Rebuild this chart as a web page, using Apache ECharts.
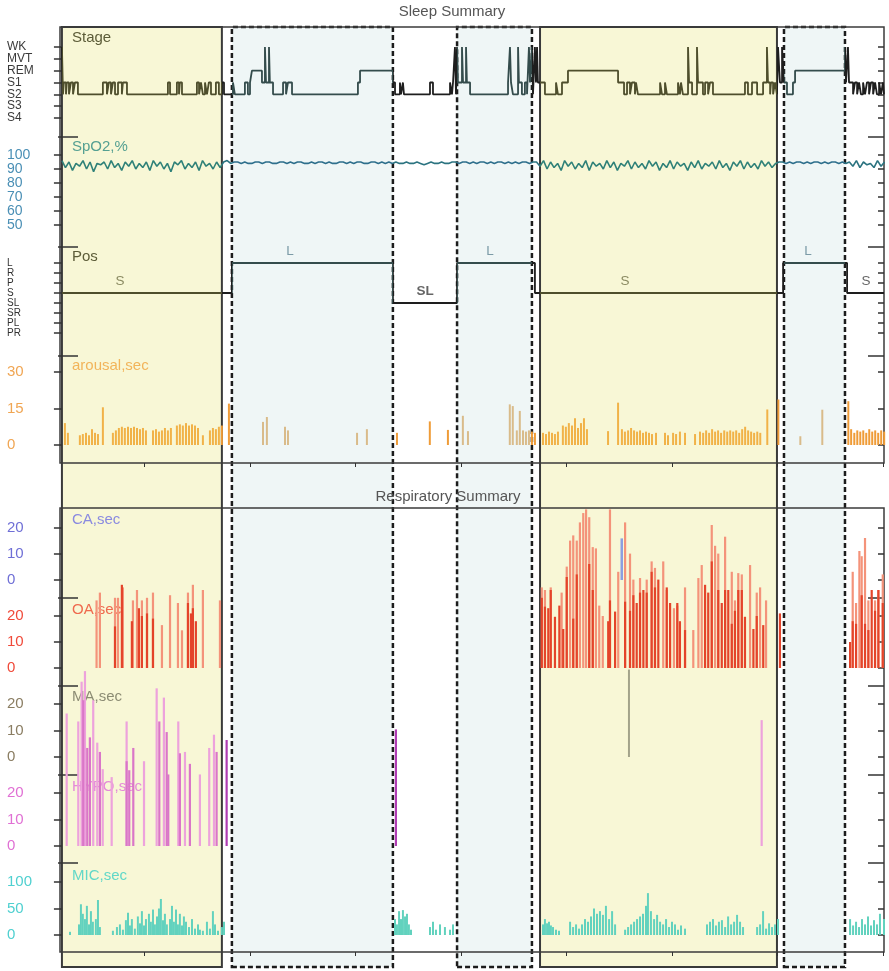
<!DOCTYPE html>
<html><head><meta charset="utf-8">
<script src="https://cdn.jsdelivr.net/npm/echarts@6/dist/echarts.min.js"></script>
<style>html,body{margin:0;padding:0;background:#fff}#c{width:889px;height:971px}</style>
</head><body><div id="c"></div>
<script>
// ===== DATA (time = minutes from start of recording) =====
const stageNames = ['S4','S3','S2','S1','REM','MVT','WK'];
const posNames = ['PR','PL','SR','SL','S','P','R','L'];
const hourTicks = [47,107,167,227,287,347,407,467];

const boxStart = [0, 96.7, 224.8, 272.0, 410.8];
const boxEnd   = [91.0, 188.3, 267.4, 406.8, 445.5];
const boxKind  = ['supine','lateral','lateral','supine','lateral'];

const posSteps = [[0,'S'],[96.7,'L'],[188.3,'SL'],[224.8,'L'],[269.1,'S'],[410.3,'L'],[446.7,'S']];
const posLabelAt = [33.0,129.7,206.6,243.5,320.4,424.5,457.5];

const stageSteps = [
[0,'WK'],[0.6,'S2'],[1.1,'S1'],[2.3,'S2'],[2.8,'S1'],[4.0,'S2'],[5.1,'S1'],[6.3,'S2'],[7.4,'S1'],[9.1,'S2'],
[23.3,'S1'],[25.6,'S2'],[26.7,'S1'],[27.9,'S2'],[29.0,'S1'],[30.2,'S2'],[31.9,'S1'],[34.1,'S2'],[34.7,'S1'],[37.0,'S2'],
[60.3,'S1'],[61.5,'S2'],[65.4,'S1'],[66.6,'S2'],[67.1,'S1'],[68.3,'S2'],
[76.8,'S1'],[78.0,'S2'],[79.1,'S1'],[80.2,'S2'],[81.4,'S1'],[82.5,'S2'],[83.6,'S1'],[84.8,'S2'],
[87.6,'S1'],[89.3,'S2'],[91.0,'S1'],[92.2,'S2'],[97.3,'S1'],[98.4,'S2'],
[104.1,'S1'],[105.8,'S2'],[107.0,'S1'],[108.1,'REM'],[113.8,'S1'],[115.5,'WK'],[116.1,'S1'],[117.8,'WK'],[118.3,'S1'],[120.1,'S2'],
[125.8,'S1'],[127.5,'S2'],[128.6,'S1'],[130.9,'S2'],
[168.4,'S1'],[169.6,'REM'],[188.3,'S1'],[189.5,'S2'],
[192.3,'S1'],[192.9,'S2'],[194.0,'S1'],[194.6,'S2'],[209.4,'S1'],[211.1,'S2'],[220.8,'S1'],[221.9,'S2'],[222.5,'S1'],[223.6,'WK'],[224.2,'S2'],[224.8,'WK'],[225.3,'S1'],
[227.6,'WK'],[228.2,'S1'],[229.9,'WK'],[230.4,'S1'],[232.2,'S2'],
[253.8,'S1'],[254.9,'WK'],[255.5,'S1'],[256.6,'S2'],[259.5,'WK'],[260.0,'S1'],[261.7,'S2'],[263.4,'S1'],[264.6,'S2'],[265.7,'WK'],[266.3,'S1'],[267.4,'WK'],[268.0,'S2'],[269.1,'WK'],[269.7,'S1'],[270.3,'WK'],[270.8,'S1'],
[274.8,'S2'],[281.1,'S1'],[282.2,'S2'],[284.5,'S1'],[287.9,'REM'],[316.4,'S1'],[319.8,'S2'],
[321.5,'S1'],[323.2,'S2'],[324.3,'S1'],[326.0,'S2'],[326.6,'S1'],[327.7,'S2'],
[340.3,'S1'],[341.4,'S2'],[343.1,'S1'],[344.2,'S2'],
[350.5,'S1'],[351.6,'S2'],[352.2,'S1'],[353.3,'S2'],[356.2,'WK'],[356.8,'S1'],[358.5,'S2'],[361.3,'WK'],[361.9,'S1'],[364.7,'S2'],[365.9,'S1'],[367.6,'S2'],[368.7,'S1'],[370.4,'S2'],
[388.6,'S1'],[390.3,'S2'],[392.6,'S1'],[395.5,'S2'],
[398.9,'S1'],[401.1,'WK'],[401.7,'S1'],[402.9,'S2'],[403.4,'S1'],[404.6,'S2'],[405.7,'S1'],[406.8,'S2'],
[407.4,'WK'],[408.5,'S1'],[409.7,'WK'],[410.8,'S1'],[412.5,'S2'],[415.9,'S1'],[417.1,'REM'],[445.5,'WK'],[446.1,'S1'],[447.2,'WK'],[447.8,'S1'],[450.1,'S2'],
[451.2,'S1'],[452.4,'S2'],[453.5,'S1'],[454.6,'S2'],[455.8,'S1'],[456.9,'S2'],[458.0,'S1'],[459.2,'S2'],[460.3,'S1'],[461.5,'S2'],[462.6,'S1'],[463.7,'S2'],[464.9,'S1'],[466.0,'S2'],[467.1,'S1'],[467.7,'S2']
];

const spo2Step = 2; // minutes between samples
const spo2 = [
96,91,95,89,94,92,96,90,95,88, 94,93,95,90,96,91,94,89,95,92, 96,90,94,91,95,89,96,92,95,90, 94,88,95,93,96,90,94,91,95,89, 96,92,94,90,95,91,
95,96,94,
95,95,94,95,94,94,95,95,94,95, 95,94,94,95,95,94,95,94,95,95, 94,94,95,94,95,95,94,95,94,94, 95,95,94,95,94,95,95,94,94,95, 95,94,95,94,95,
94,95,94,94,95,94,94,95,94,93,94,95,94,94,95,94,94,95,
95,94,95,95,94,95,94,95,95,94,95,94,95,95,94,95,94,95,94,95,95,94,95,
95,92,96,90,95,91,94,89,96,92, 95,90,94,91,96,89,95,92,94,90, 96,91,95,89,94,92,96,90,95,91, 94,90,96,92,95,89,94,91,96,90, 95,92,94,89,95,91,96,90,94,92, 95,90,96,91,94,89,95,92,96,90, 95,91,94,90,96,92,95,91,94,
95,95,94,95,94,95,95,94,95,94,95,95,94,95,94,95,95,94,95,94,
95,92,96,91,95,93,94,91,96,92,95
];

const arousal = [
[1.7,9],[3.4,5],[10.2,4],[11.9,4.5],[13.7,5],[15.4,4],[17.1,6.5],[18.8,5],[20.5,4.5],[23.3,15.5],
[29.0,5],[30.7,6],[32.4,7],[34.1,7.5],[35.8,7],[37.6,7.5],[39.3,7],[41.0,7.5],[42.7,7],[44.4,6.5],[46.1,7],[47.8,6],
[51.8,6],[53.5,6.5],[55.2,5.5],[56.9,6],[58.6,7],[60.3,6],[62.0,7],
[65.4,8],[67.1,8.5],[68.8,8],[70.6,9],[72.3,8],[74.0,8.5],[75.7,8],[77.4,7],[80.2,4],
[84.2,6],[85.9,7],[87.6,6.5],[89.3,7.5],[91.0,8],[95.0,17],
[114.4,9.5],[116.6,11.5],[126.9,7.5],[128.6,6],[167.9,5],[173.5,6.5],
[190.6,5],[209.3,9.7],[219.6,6.2],[228.1,12],[231.0,5.7],
[254.8,16.7],[256.5,16],[258.8,6],[260.5,14],[262.3,6],[264.0,5.5],[265.7,6],[267.4,5.5],[269.1,5],
[273.7,5],[275.4,4.5],[277.1,5.5],[278.8,5],[280.5,4.5],[282.2,5.5],
[285.0,8],[286.7,7.5],[288.4,9],[290.2,8],[291.9,11],[293.6,7],[295.3,9],[297.0,11],[298.7,6.5],
[310.7,5.7],[316.4,17.4],[318.6,6.5],[320.3,5.5],[322.1,6],[323.8,7],[325.5,6],[327.2,5.5],[328.9,6],[330.6,5],[332.3,5.5],[334.0,5],[335.7,4.5],[338.0,5],
[343.1,5],[344.8,4],[347.7,5],[349.4,4.5],[351.6,5.5],[354.5,5],[360.2,4.5],
[363.0,5.5],[364.8,5],[366.5,6],[368.2,5],[369.9,6.5],[371.6,5.5],[373.3,6],[375.0,5],[376.8,6],[378.5,5.5],[380.2,6],[381.9,5.5],[383.6,6],[385.3,5],[387.0,6.5],[388.7,7.5],[390.4,6],[392.1,5.5],[393.8,5],[395.6,5.5],[397.3,5],[401.3,14.6],
[407.6,18.7],[420.1,3.6],[432.6,14.5],
[447.4,18],[449.0,6.5],[450.8,5],[452.5,6],[454.2,5.5],[455.9,6],[457.6,5],[459.3,6.5],[461.0,5.5],[462.7,6],[464.4,5],[466.1,6],[467.8,5.5]
];

const caEvents = [[318.5,16]];
const oaLight = [
[19.7,26],[21.6,29],[30.2,27],[31.9,27],[34.7,31],[40.4,26],[42.7,30],[45.5,26],[48.4,27],[51.8,29],[56.9,16.5],[61.5,28],[66.0,25],[68.3,14.5],[71.7,29],[74.5,32],[80.2,30],[89.9,26],
[273.0,31],[274.8,30],[278.1,31],[284.3,29],[287.2,39],[289.1,49],[290.9,51],[292.9,49],[294.7,56],[296.6,59.6],[298.2,61],[300.0,58],[302.0,46.5],[303.8,46],[305.7,24],[307.7,20],[311.8,61],[316.5,37],
[320.4,56],[323.2,44],[325.1,34],[328.9,34.6],[332.7,34],[335.5,41],[337.4,38.5],[342.1,41],[344.1,30],[348.2,23],[350.1,24],[354.5,31],[359.2,14.6],[362.1,34.6],[364.0,39.6],[369.7,55],[371.6,47],[373.4,44],[377.3,50.5],[381.1,37],[382.9,26],[384.8,36.5],[386.8,36],[391.5,39.6],[395.3,29],[397.2,31],[400.6,26],
[449.9,37],[451.8,25],[453.7,45],[455.0,43],[456.9,50],[458.8,26],[462.6,26],[464.5,30],[467.0,36]
];
const oaDark = [
[30.2,16],[34.1,32],[39.8,18],[43.8,23],[45.5,20],[48.4,21],[51.8,19],[71.7,25],[73.4,21],[74.5,23],[76.2,18],
[273.0,27],[274.8,23.6],[276.7,23],[278.1,30],[280.5,19.7],[283.0,24],[285.2,15],[287.2,35],[290.9,19],[292.9,36],[300.0,40],[302.0,30],[310.8,18],[311.8,26],[314.7,21.7],
[320.4,25.5],[323.2,22],[325.1,28],[327.0,25],[328.9,29],[330.8,30],[332.7,29],[335.5,37],[337.4,31],[339.3,34],[344.1,31],[346.0,25],[350.1,25],[351.6,18],[354.5,14.6],[365.9,32],[367.7,29],[369.7,41],[373.4,30],[375.4,25],[377.3,30],[379.1,30],[381.1,17],[382.9,22],[384.8,30],[386.8,30],[388.6,19.7],[393.4,15],[395.3,20],[399.0,16.5],[408.5,21],
[448.4,10],[449.9,18],[451.8,17],[455.0,28],[456.9,17],[458.8,14.6],[460.7,30],[462.6,22],[464.5,30],[467.0,25]
];
const maEvents = [[322.6,33]];
const hypoLight = [[2.7,50],[9.3,47],[11.2,62],[13.1,66],[17.8,55],[20.1,39],[23.2,29],[28.3,26],[36.8,47],[46.7,32],[53.9,59.5],[58.0,56],[66.2,47],[70.0,35.5],[78.5,27],[83.8,37],[86.5,42],[398.1,47.5]];
const hypoDark = [[12.1,55],[14.4,37],[15.9,41],[21.6,35.5],[36.8,32],[38.3,28.6],[40.6,37],[55.4,47],[59.6,43],[60.5,27],[67.1,35],[72.8,31],[88.0,35.5]];
const hypoDeep = [[93.7,40],[190.0,44]];
const mic = [
[4.6,6],[9.7,20],[10.8,58],[11.9,40],[13.1,30],[14.2,55],[15.4,20],[16.5,45],[17.6,25],[19.3,30],[20.5,66],[21.6,15],
[29.0,8],[31.3,15],[33.0,20],[34.7,10],[36.4,28],[37.6,42],[38.7,18],[39.8,30],[41.5,12],[43.2,35],[44.4,22],[45.5,45],[46.7,18],[47.8,30],[49.5,40],[50.6,25],[51.8,48],[52.9,20],[54.1,35],[55.2,50],[56.3,68],[57.5,28],[58.6,40],[59.7,20],[61.5,30],[62.6,55],[63.7,25],[64.9,48],[66.0,20],[67.1,40],[68.3,18],[69.4,35],[70.6,25],[72.3,15],[74.0,30],[75.7,12],[77.4,20],[78.5,10],[80.2,8],[82.5,25],[84.2,12],[85.9,45],[87.1,20],[88.8,8],[91.0,15],[92.2,25],
[189.5,30],[190.6,20],[191.8,45],[192.9,30],[194.0,47],[195.2,35],[196.3,40],[197.4,20],[198.6,10],[209.4,15],[211.1,25],[212.8,10],[215.1,20],[217.9,15],[220.8,10],[222.5,20],
[273.7,20],[274.8,30],[276.0,22],[277.1,25],[278.2,18],[279.4,15],[281.1,10],[282.8,8],[289.1,25],[290.8,15],[292.5,20],[294.2,12],[295.9,20],[297.6,30],[299.3,25],[301.0,35],[302.7,50],[304.4,40],[306.1,45],[307.8,38],[309.5,55],[311.3,30],[313.0,45],[314.7,20],
[320.4,10],[322.1,15],[323.8,20],[325.5,25],[327.2,30],[328.9,35],[330.6,40],[332.3,55],[333.4,79],[335.1,45],[336.9,30],[338.6,38],[340.3,25],[342.0,20],[343.7,30],[345.4,15],[347.1,25],[348.8,20],[350.5,10],[352.2,18],[354.5,12],
[367.0,20],[368.7,25],[370.4,30],[372.1,18],[373.8,25],[375.5,28],[377.3,15],[379.0,35],[380.7,20],[382.4,25],[384.1,38],[385.8,25],[387.5,15],
[395.5,15],[397.2,20],[398.9,45],[400.6,12],[402.3,22],[404.0,15],[405.7,20],[407.4,30],
[448.4,30],[450.1,18],[451.8,25],[453.5,15],[455.2,30],[456.9,20],[458.6,35],[460.3,18],[462.0,28],[463.7,20],[465.4,40],[467.7,30]
];

// ===== LAYOUT / STYLE =====
const GL = 60, GR = 5, TMIN = -1.1, TMAX = 467.7;
const FONT = 'Liberation Sans, Arial, sans-serif';
const panels = [
 {name:'Stage', ny:38, nc:'#5c5c38', top:47, height:71, min:0, max:6, interval:1, lc:'#3a3a3a', ls:12, fmt:v=>stageNames[v]},
 {name:'SpO2,%', ny:147, nc:'#55a092', top:155, height:70, min:50, max:100, interval:10, lc:'#4a8fb5', ls:14},
 {name:'Pos', ny:257, nc:'#5c5c38', top:263, height:70, min:0, max:7, interval:1, lc:'#333', ls:10, fmt:v=>posNames[v]},
 {name:'arousal,sec', ny:366, nc:'#f2b45a', top:372, height:73, min:0, max:30, interval:15, lc:'#f0a654', ls:15},
 {name:'CA,sec', ny:520, nc:'#8a8ae0', top:528, height:52, min:0, max:20, interval:10, lc:'#6f6fd6', ls:15},
 {name:'OA,sec', ny:610, nc:'#ef6a4e', top:616, height:52, min:0, max:20, interval:10, lc:'#f04a3a', ls:15},
 {name:'MA,sec', ny:697, nc:'#8c8c74', top:704, height:53, min:0, max:20, interval:10, lc:'#8a7d62', ls:15},
 {name:'HYPO,sec', ny:787, nc:'#e48ad8', top:793, height:53, min:0, max:20, interval:10, lc:'#e070d4', ls:15},
 {name:'MIC,sec', ny:876, nc:'#62d8c8', top:882, height:53, min:0, max:100, interval:50, lc:'#4fd0d0', ls:15}
];
const separatorsY = [137,247,356,598,686,775,863];

const kindAt = t => { for (let i=0;i<boxStart.length;i++) if (t>=boxStart[i] && t<boxEnd[i]) return boxKind[i]; return 'none'; };
const tintPieces = c => boxStart.map((s,i)=>({gte:s, lt:boxEnd[i], color:c[boxKind[i]]}));

const grids = [
 {left:GL, right:GR, top:27, height:940, show:false},
 {left:GL, right:GR, top:27, height:436, show:true, borderColor:'#3b3b3b', borderWidth:1.5, backgroundColor:'transparent'},
 {left:GL, right:GR, top:508, height:444, show:true, borderColor:'#3b3b3b', borderWidth:1.5, backgroundColor:'transparent'}
];
const xAxes = [
 {gridIndex:0, type:'value', min:TMIN, max:TMAX, show:false},
 {gridIndex:1, type:'value', min:TMIN, max:TMAX, axisLine:{show:false}, axisLabel:{show:false}, splitLine:{show:false},
  axisTick:{show:true, length:4, customValues:hourTicks, lineStyle:{color:'#333'}}},
 {gridIndex:2, type:'value', min:TMIN, max:TMAX, axisLine:{show:false}, axisLabel:{show:false}, splitLine:{show:false},
  axisTick:{show:true, length:4, customValues:hourTicks, lineStyle:{color:'#333'}}}
];
const yAxes = [
 {gridIndex:0, min:0, max:1, show:false},
 {gridIndex:1, min:0, max:1, show:false},
 {gridIndex:2, min:0, max:1, show:false}
];
panels.forEach((p,i)=>{
  const gi = 3+i;
  grids.push({left:GL, right:GR, top:p.top, height:p.height, show:false});
  xAxes.push({gridIndex:gi, type:'value', min:TMIN, max:TMAX, show:false});
  yAxes.push({gridIndex:gi, type:'value', position:'left', min:p.min, max:p.max, interval:p.interval,
    axisLine:{show:false}, splitLine:{show:false},
    axisTick:{show:true, length:8, lineStyle:{color:'#333', width:1.5}},
    axisLabel:{color:p.lc, fontSize:p.ls, fontFamily:FONT, align:'left', margin:53,
      formatter:p.fmt || (v=>String(v))}});
  yAxes.push({gridIndex:gi, type:'value', position:'right', min:p.min, max:p.max, interval:p.interval,
    axisLine:{show:false}, splitLine:{show:false}, axisLabel:{show:false},
    axisTick:{show:true, inside:true, length:6, lineStyle:{color:'#333', width:1.5}}});
});
const P = i => ({xAxisIndex:3+i, yAxisIndex:3+2*i});

const series = [];
// region boxes (drawn beneath everything)
series.push({type:'line', xAxisIndex:0, yAxisIndex:0, z:-2, zlevel:0, data:[], silent:true,
  markArea:{silent:true, z:-2, data: boxStart.map((s,i)=>[
    {xAxis:s, yAxis:0, itemStyle: boxKind[i]==='supine'
      ? {color:'#f8f7d6', borderColor:'#3a3a3a', borderWidth:2, borderType:'solid'}
      : {color:'#eff6f6', borderColor:'#1c1c1c', borderWidth:2.5, borderType:[5,3]}},
    {xAxis:boxEnd[i], yAxis:1}])}});
// stage
const stageIdx = series.length;
series.push(Object.assign(P(0), {type:'line', step:'end', showSymbol:false, z:3,
  lineStyle:{width:1.8}, data: stageSteps.map(([t,s])=>[t, stageNames.indexOf(s)])}));
// spo2
const spo2Idx = series.length;
series.push(Object.assign(P(1), {type:'line', showSymbol:false, z:3, lineStyle:{width:1.6},
  data: spo2.map((v,i)=>[i*spo2Step, v])}));
// position
const posIdx = series.length;
const posData = posSteps.map(([t,p])=>[t, posNames.indexOf(p)]);
posData.push([TMAX, posData[posData.length-1][1]]);
series.push(Object.assign(P(2), {type:'line', step:'end', showSymbol:false, z:3, lineStyle:{width:1.8}, data: posData}));
const posLabelColor = {supine:'#6f6f45', lateral:'#5f8494', none:'#3f3f3f'};
series.push(Object.assign(P(2), {type:'scatter', symbolSize:1, z:3, itemStyle:{color:'rgba(0,0,0,0)'}, silent:true,
  data: posLabelAt.map(t=>{
    let code = posSteps[0][1];
    posSteps.forEach(([s,c])=>{ if (s<=t) code=c; });
    return {value:[t, posNames.indexOf(code)], label:{show:true, position:'top', distance:4, formatter:code,
      color: posLabelColor[kindAt(t)], fontSize:13.5, fontWeight: code==='SL'?'bold':'normal', fontFamily:FONT}};
  })}));
// arousal
const arIdx = series.length;
series.push(Object.assign(P(3), {type:'bar', barWidth:2, clip:false, z:3, data: arousal}));
// CA
series.push(Object.assign(P(4), {type:'bar', barWidth:2.5, clip:false, z:3, itemStyle:{color:'#8c9ee0'}, data: caEvents}));
// OA
series.push(Object.assign(P(5), {type:'bar', barWidth:2.2, barGap:'-100%', clip:false, z:3, itemStyle:{color:'#f4937a'}, data: oaLight}));
series.push(Object.assign(P(5), {type:'bar', barWidth:2.2, barGap:'-100%', clip:false, z:4, itemStyle:{color:'#e4442a'}, data: oaDark}));
// MA
series.push(Object.assign(P(6), {type:'bar', barWidth:2, clip:false, z:3, itemStyle:{color:'#a3a38a'}, data: maEvents}));
// HYPO
series.push(Object.assign(P(7), {type:'bar', barWidth:2.2, barGap:'-100%', clip:false, z:3, itemStyle:{color:'#eda2dc'}, data: hypoLight}));
series.push(Object.assign(P(7), {type:'bar', barWidth:2.2, barGap:'-100%', clip:false, z:4, itemStyle:{color:'#da76c8'}, data: hypoDark}));
series.push(Object.assign(P(7), {type:'bar', barWidth:2.2, barGap:'-100%', clip:false, z:4, itemStyle:{color:'#b03cb4'}, data: hypoDeep}));
// MIC
series.push(Object.assign(P(8), {type:'bar', barWidth:2, clip:false, z:3, itemStyle:{color:'#62d2be'}, data: mic}));

const graphic = [
 {type:'text', x:452, y:12, z:2, style:{text:'Sleep Summary', align:'center', verticalAlign:'middle', fontSize:15, fontFamily:FONT, fill:'#555'}},
 {type:'text', x:448, y:497, z:2, style:{text:'Respiratory Summary', align:'center', verticalAlign:'middle', fontSize:15, fontFamily:FONT, fill:'#555'}}
];
panels.forEach(p=>graphic.push({type:'text', x:72, y:p.ny, z:2,
  style:{text:p.name, align:'left', verticalAlign:'middle', fontSize:15, fontFamily:FONT, fill:p.nc}}));
separatorsY.forEach(y=>{
  graphic.push({type:'line', z:2, shape:{x1:58, y1:y, x2:78, y2:y}, style:{stroke:'#333', lineWidth:1.5}});
  graphic.push({type:'line', z:2, shape:{x1:868, y1:y, x2:884, y2:y}, style:{stroke:'#333', lineWidth:1.5}});
});

const option = {
  animation:false,
  textStyle:{fontFamily:FONT},
  grid:grids, xAxis:xAxes, yAxis:yAxes,
  visualMap:[
    {type:'piecewise', show:false, dimension:0, seriesIndex:[stageIdx,posIdx],
     pieces:tintPieces({supine:'#4e4e2c', lateral:'#344c4c'}), outOfRange:{color:'#1e1e1e'}},
    {type:'piecewise', show:false, dimension:0, seriesIndex:[spo2Idx],
     pieces:tintPieces({supine:'#2f8178', lateral:'#2e6f8c'}), outOfRange:{color:'#2b7380'}},
    {type:'piecewise', show:false, dimension:0, seriesIndex:[arIdx],
     pieces:tintPieces({supine:'#f1b248', lateral:'#d9bb8a'}), outOfRange:{color:'#ef9c38'}}
  ],
  graphic:{elements:graphic, z:2},
  series:series
};
echarts.init(document.getElementById('c')).setOption(option);
</script>
</body></html>
